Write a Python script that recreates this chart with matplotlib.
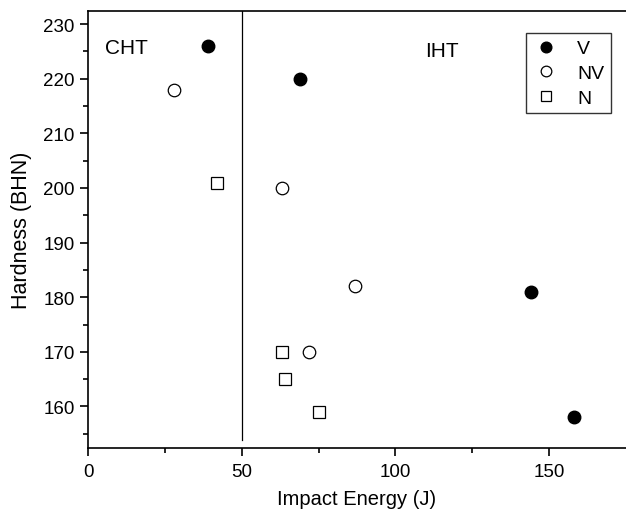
import matplotlib
matplotlib.use("Agg")
import matplotlib.pyplot as plt

plt.rcParams['font.family'] = ['Liberation Sans', 'DejaVu Sans']

v_x = [39, 69, 144, 158]
v_y = [226, 220, 181, 158]
nv_x = [28, 63, 87, 72]
nv_y = [218, 200, 182, 170]
n_x = [42, 63, 64, 75]
n_y = [201, 170, 165, 159]

fig = plt.figure(figsize=(6.26, 5.10), dpi=100)
ax = fig.add_axes([88/626, 1-449/510, (626-88)/626, (449-12)/510])
ax.plot(v_x, v_y, 'o', color='black', markersize=9, label='V', linestyle='none')
ax.plot(nv_x, nv_y, 'o', markerfacecolor='white', markeredgecolor='black', markeredgewidth=0.9,
        markersize=9, label='NV', linestyle='none')
ax.plot(n_x, n_y, 's', markerfacecolor='white', markeredgecolor='black', markeredgewidth=0.9,
        markersize=8, label='N', linestyle='none')

ax.plot([50, 50], [153.8, 240], color='black', linewidth=0.9)

ax.set_xlim(0, 175)
ax.set_ylim(152.4, 232.4)
ax.set_xticks([0, 50, 100, 150])
ax.set_xticks([25, 75, 125], minor=True)
ax.set_yticks(range(160, 231, 10))
ax.set_yticks(range(155, 231, 10), minor=True)
ax.tick_params(axis='both', which='major', direction='out', length=6, width=1.2, labelsize=13.5)
ax.tick_params(axis='x', which='major', pad=5)
ax.tick_params(axis='both', which='minor', direction='out', length=3.5, width=1.2)
for s in ['left', 'bottom', 'top']:
    ax.spines[s].set_linewidth(1.2)
ax.spines['right'].set_visible(False)

ax.set_xlabel('Impact Energy (J)', fontsize=14.5, labelpad=6)
ax.set_ylabel('Hardness (BHN)', fontsize=15.5, labelpad=8)

ax.text(5.5, 225.7, 'CHT', fontsize=15, va='center', ha='left')
ax.text(109.7, 225.2, 'IHT', fontsize=15, va='center', ha='left')

leg = ax.legend(loc='upper right', bbox_to_anchor=((611-88)/538, 1-(34-12)/437),
                frameon=True, fancybox=False, edgecolor='black', fontsize=14,
                handletextpad=0.9, borderpad=0.35, labelspacing=0.36, handlelength=1.4,
                borderaxespad=0, markerscale=0.85)
leg.get_frame().set_linewidth(1.0)

fig.savefig('out.png', dpi=100)
